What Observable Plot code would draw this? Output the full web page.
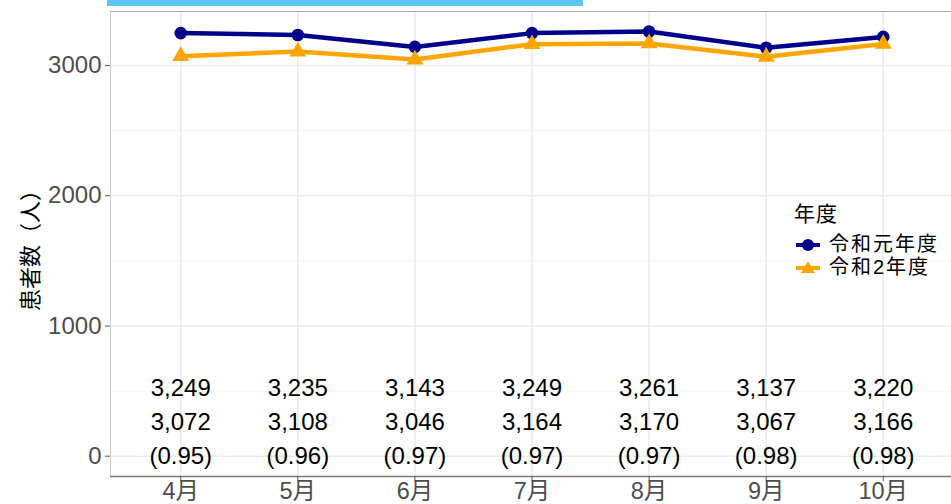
<!DOCTYPE html>
<html><head><meta charset="utf-8">
<script src="https://cdn.jsdelivr.net/npm/d3@7"></script>
<script src="https://cdn.jsdelivr.net/npm/@observablehq/plot@0.6"></script>
<style>
body{margin:0;background:#fff;overflow:hidden;}
#wrap{position:relative;width:951px;height:504px;overflow:hidden;font-family:"Liberation Sans",Arial,"Noto Sans CJK JP",sans-serif;}
#bar{position:absolute;left:107px;top:0;width:476px;height:6px;background:#5cc6f0;}
#ytitle{position:absolute;left:28px;top:245px;transform:translate(-50%,-50%) rotate(-90deg);font-size:22px;color:#000;white-space:nowrap;font-family:"Noto Sans CJK JP",sans-serif;line-height:1;}
#legend{position:absolute;left:794px;top:202px;font-family:"Liberation Sans","Noto Sans CJK JP",sans-serif;color:#000;}
#legend .t{font-size:21px;line-height:24px;height:24px;margin-bottom:7px;letter-spacing:1px;display:block;}
#legend .row{display:flex;align-items:center;height:23px;}
#legend .row span{display:inline-block;height:23px;line-height:23px;font-size:20px;letter-spacing:2px;overflow:visible;}
#legend svg{margin-right:5px;}
</style></head>
<body>
<div id="wrap">
<div id="chart"></div>
<div id="bar"></div>
<div id="ytitle">患者数（人）</div>
<div id="legend"></div>
</div>
<script>
const months = ["4月","5月","6月","7月","8月","9月","10月"];
const series = ["令和元年度","令和2年度"];
const r1 = [3249,3235,3143,3249,3261,3137,3220];
const r2 = [3072,3108,3046,3164,3170,3067,3166];
const ratio = ["(0.95)","(0.96)","(0.97)","(0.97)","(0.97)","(0.98)","(0.98)"];
const yTicks = [0,1000,2000,3000];
const yMinor = [500,1500,2500];
const colors = ["#00008B","#FFA500"];
const legendTitle = "年度";

const xi = months.map((m,i)=>i);
const data = [];
series.forEach((s,si)=>months.forEach((m,i)=>data.push({i, series:s, value: si===0 ? r1[i] : r2[i]})));
const fmt = d3.format(",");
const labels = months.map((m,i)=>({i, a: fmt(r1[i]), b: fmt(r2[i]), c: ratio[i]}));
const yMin = -156, yMax = 3415;

const chart = Plot.plot({
  width: 951, height: 504,
  marginLeft: 110, marginRight: 0, marginTop: 11, marginBottom: 28,
  style: {fontFamily: '"Liberation Sans",Arial,"Noto Sans CJK JP",sans-serif', background: "transparent", overflow: "visible"},
  x: {type: "linear", domain: [-0.6, 6.6], range: [110, 953], axis: null},
  y: {domain: [yMin, yMax], axis: null},
  color: {domain: series, range: colors},
  symbol: {domain: series, range: ["circle","triangle"]},
  marks: [
    Plot.gridY(yMinor, {stroke: "#f5f5f5", strokeOpacity: 1, strokeWidth: 1}),
    Plot.gridY(yTicks, {stroke: "#ebebeb", strokeOpacity: 1, strokeWidth: 1.6}),
    Plot.gridX(xi, {stroke: "#ebebeb", strokeOpacity: 1, strokeWidth: 1.6}),
    Plot.ruleY([yMax], {stroke: "#aaa", strokeWidth: 1}),
    Plot.ruleX([-0.6], {stroke: "#ccc", strokeWidth: 1}),
    Plot.ruleY([yMin], {stroke: "#7a7a7a", strokeWidth: 1.4}),
    Plot.axisY(yTicks, {tickSize: 5, tickPadding: 4, fontSize: 24, fill: "#4d4d4d", stroke: "#555", label: null, tickFormat: d => String(d)}),
    Plot.axisX(xi, {tickSize: 5, tickPadding: 1, fontSize: 23.5, fill: "#4d4d4d", stroke: "#555", label: null, tickFormat: i => months[i]}),
    Plot.line(data, {x: "i", y: "value", stroke: "series", strokeWidth: 4.5}),
    Plot.dot(data, {x: "i", y: "value", fill: "series", symbol: "series", r: 6.3, stroke: "none"}),
    Plot.text(labels, {x: "i", y: () => 520, text: "a", fontSize: 24, fill: "#000"}),
    Plot.text(labels, {x: "i", y: () => 260, text: "b", fontSize: 24, fill: "#000"}),
    Plot.text(labels, {x: "i", y: () => 0, text: "c", fontSize: 24, fill: "#000"})
  ]
});
document.getElementById("chart").appendChild(chart);

// legend
const lg = document.getElementById("legend");
const t = document.createElement("div"); t.className = "t"; t.textContent = legendTitle; lg.appendChild(t);
series.forEach((s, si) => {
  const row = document.createElement("div"); row.className = "row";
  const sym = si === 0
    ? `<circle cx="14" cy="10" r="6" fill="${colors[si]}"/>`
    : `<path d="M14,3 L21,15 L7,15 Z" fill="${colors[si]}"/>`;
  row.innerHTML = `<svg width="30" height="20"><line x1="2" x2="26" y1="10" y2="10" stroke="${colors[si]}" stroke-width="4"/>${sym}</svg><span>${s}</span>`;
  lg.appendChild(row);
});
</script>
</body></html>
